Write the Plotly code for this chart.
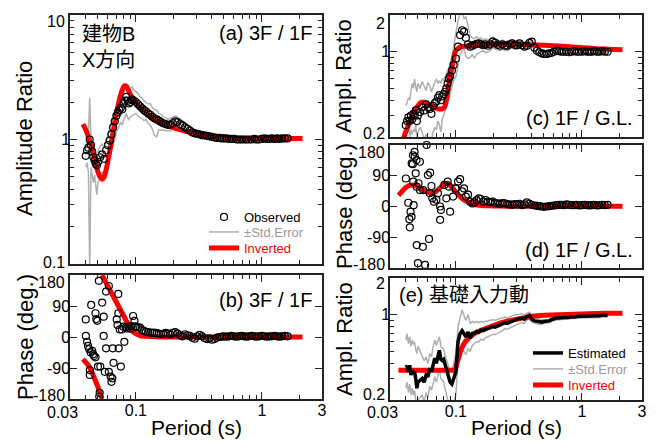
import plotly.graph_objects as go

# ---------------- data ----------------
P = [0.040, 0.041, 0.042, 0.043, 0.044, 0.045, 0.046, 0.047, 0.048, 0.049,
     0.050, 0.052, 0.054, 0.056, 0.058, 0.060, 0.062, 0.064, 0.066, 0.068,
     0.070, 0.072, 0.074, 0.076, 0.078, 0.080, 0.082, 0.084, 0.086, 0.088,
     0.090, 0.093, 0.096, 0.100, 0.104, 0.108, 0.112, 0.116, 0.120, 0.125,
     0.130, 0.135, 0.140, 0.146, 0.152, 0.158, 0.165, 0.172, 0.180, 0.188,
     0.196, 0.205, 0.214, 0.224, 0.234, 0.245, 0.256, 0.268, 0.280, 0.293,
     0.306, 0.320, 0.335, 0.350, 0.366, 0.383, 0.400, 0.420, 0.440, 0.460,
     0.480, 0.500, 0.525, 0.550, 0.575, 0.600, 0.630, 0.660, 0.690, 0.720,
     0.755, 0.790, 0.830, 0.870, 0.910, 0.950, 1.000, 1.050, 1.100, 1.150,
     1.200, 1.260, 1.320, 1.380, 1.450, 1.520, 1.600]

# (a) 3F/1F amplitude
a_obs = [0.74, 0.82, 0.86, 1.00, 0.90, 0.80, 0.72, 0.68, 0.64, 0.62,
         0.66, 0.72, 0.76, 0.70, 0.82, 0.90, 0.98, 1.10, 1.25, 1.40,
         1.55, 1.65, 1.72, 1.80, 1.75, 1.95, 2.05, 2.20, 2.05, 1.95,
         2.00, 2.10, 2.05, 2.00, 1.92, 1.85, 1.78, 1.72, 1.68, 1.62,
         1.58, 1.52, 1.48, 1.45, 1.42, 1.38, 1.35, 1.33, 1.31, 1.32,
         1.35, 1.40, 1.38, 1.33, 1.30, 1.25, 1.22, 1.18, 1.14, 1.12,
         1.11, 1.10, 1.08, 1.08, 1.07, 1.06, 1.05, 1.04, 1.03, 1.03,
         1.02, 1.02, 1.02, 1.01, 1.01, 1.01, 1.00, 1.00, 1.00, 1.00,
         1.00, 1.00, 1.00, 1.01, 1.00, 1.00, 1.01, 1.02, 1.01, 1.01,
         1.02, 1.01, 1.02, 1.01, 1.02, 1.02, 1.02]
a_up = [0.85, 0.95, 1.05, 2.15, 1.00, 0.92, 0.85, 0.82, 0.75, 0.78,
        0.80, 0.88, 0.92, 0.85, 1.00, 1.10, 1.25, 1.38, 1.55, 1.70,
        1.85, 2.05, 2.15, 2.30, 2.20, 2.45, 2.55, 2.70, 2.50, 2.60,
        2.55, 2.65, 2.50, 2.40, 2.35, 2.20, 2.15, 2.05, 2.00, 1.92,
        1.95, 1.80, 1.75, 1.72, 1.62, 1.60, 1.52, 1.50, 1.45, 1.48,
        1.50, 1.55, 1.52, 1.45, 1.42, 1.35, 1.33, 1.28, 1.22, 1.20,
        1.17, 1.16, 1.13, 1.13, 1.11, 1.10, 1.08, 1.07, 1.06, 1.05,
        1.04, 1.04, 1.04, 1.03, 1.03, 1.03, 1.02, 1.02, 1.02, 1.02,
        1.02, 1.02, 1.02, 1.03, 1.02, 1.02, 1.03, 1.04, 1.03, 1.03,
        1.04, 1.03, 1.04, 1.03, 1.04, 1.04, 1.04]
a_lo = [0.60, 0.65, 0.55, 0.09, 0.60, 0.50, 0.45, 0.52, 0.40, 0.36,
        0.45, 0.50, 0.55, 0.48, 0.60, 0.65, 0.72, 0.80, 0.90, 1.00,
        1.15, 1.20, 1.30, 1.38, 1.30, 1.45, 1.50, 1.62, 1.50, 1.45,
        1.52, 1.55, 1.60, 1.62, 1.55, 1.50, 1.48, 1.42, 1.45, 1.35,
        1.30, 1.22, 1.08, 1.05, 1.20, 1.18, 1.20, 1.17, 1.18, 1.17,
        1.22, 1.25, 1.24, 1.21, 1.18, 1.15, 1.12, 1.09, 1.07, 1.05,
        1.05, 1.04, 1.03, 1.03, 1.03, 1.02, 1.02, 1.01, 1.00, 1.01,
        1.00, 1.00, 1.00, 0.99, 0.99, 0.99, 0.98, 0.98, 0.98, 0.98,
        0.98, 0.98, 0.98, 0.99, 0.98, 0.98, 0.99, 1.00, 0.99, 0.99,
        1.00, 0.99, 1.00, 0.99, 1.00, 1.00, 1.00]
INV_T = [0.038, 0.040, 0.042, 0.044, 0.046, 0.048, 0.050, 0.052, 0.054, 0.056,
         0.058, 0.060, 0.063, 0.066, 0.069, 0.072, 0.075, 0.078, 0.081, 0.084,
         0.087, 0.090, 0.095, 0.100, 0.110, 0.120, 0.130, 0.140, 0.160, 0.180,
         0.200, 0.230, 0.260, 0.300, 0.350, 0.400, 0.500, 0.600, 0.800, 1.000,
         1.300, 1.600, 2.100]
a_inv = [1.33, 1.20, 1.05, 0.92, 0.77, 0.64, 0.55, 0.50, 0.48, 0.50,
         0.57, 0.67, 0.88, 1.15, 1.50, 1.85, 2.20, 2.50, 2.70, 2.68,
         2.50, 2.32, 2.10, 1.95, 1.75, 1.62, 1.52, 1.45, 1.35, 1.29,
         1.24, 1.19, 1.15, 1.11, 1.08, 1.06, 1.04, 1.03, 1.02, 1.02,
         1.02, 1.02, 1.02]

# (b) 3F/1F phase
b_short_T = [0.0400, 0.0401, 0.0410, 0.0417, 0.0425, 0.0431, 0.0431, 0.0438, 0.0442, 0.0450,
             0.0457, 0.0465, 0.0478, 0.0478, 0.0485, 0.0494, 0.0500, 0.0508, 0.0512, 0.0516,
             0.0522, 0.0540, 0.0555, 0.0555, 0.0567, 0.0580, 0.0580, 0.0610, 0.0610, 0.0630,
             0.0640, 0.0650, 0.0655, 0.0665, 0.0705, 0.0715, 0.0725, 0.0725, 0.0730, 0.0745,
             0.0760, 0.0775, 0.0795, 0.0810, 0.0830, 0.0850, 0.0880, 0.0905, 0.0925, 0.0950,
             0.0975, 0.0990]
b_short = [51, 3, -14, -26, -35, -96, -110, -45, 93, -40,
           -50, -55, 69, -59, 52, 47, -86, 163, -173, -162,
           -86, 100, 59, 3, -101, 132, -33, 148, -101, -115,
           -130, -120, -33, -75, 51, 35, 125, 69, -33, 22,
           -86, 22, 30, -14, 28, 25, 30, 24, 32, 61,
           47, 30]
b_long = [30, 28, 27, 20, 18, 15, 14, 13, 12, 13,
          11, 10, 8, 9, 12, 10, 7, 12, 14, 10,
          5, 2, 8, 5, 3, -2, -5, 2, 6, 2,
          -3, -6, -4, -8, -6, -2, 0, 1, 2, 1,
          2, 3, 2, 1, 2, 3, 2, 1, 2, 3,
          2, 1, 2, 3, 2, 1, 2, 2, 3, 2,
          1, 2, 3, 2]
b_inv_T = [0.038, 0.040, 0.042, 0.044, 0.046, 0.048, 0.050, 0.052, 0.0538, 0.0538,
           0.0538, 0.056, 0.058, 0.060, 0.063, 0.066, 0.069, 0.072, 0.075, 0.078,
           0.081, 0.084, 0.087, 0.090, 0.095, 0.100, 0.110, 0.120, 0.130, 0.140,
           0.160, 0.200, 0.300, 0.500, 1.000, 2.100]
b_inv = [-64, -72, -82, -95, -110, -126, -145, -163, -180, None,
         180, 168, 158, 147, 130, 114, 100, 87, 74, 62,
         52, 43, 34, 26, 15, 9, 3, 1.5, 1, 0.5,
         0, 0, 0, 0, 0, 0]

# (c) 1F/G.L. amplitude
c_obs = [0.25, 0.27, 0.29, 0.27, 0.30, 0.28, 0.31, 0.30, 0.33, 0.27,
         0.30, 0.32, 0.35, 0.33, 0.37, 0.35, 0.34, 0.31, 0.36, 0.38,
         0.39, 0.42, 0.44, 0.40, 0.43, 0.45, 0.47, 0.50, 0.55, 0.60,
         0.63, 0.70, 0.78, 0.88, 1.10, 1.37, 1.50, 1.46, 1.30, 1.15,
         1.10, 1.12, 1.14, 1.16, 1.17, 1.15, 1.13, 1.15, 1.12, 1.15,
         1.21, 1.18, 1.14, 1.12, 1.15, 1.12, 1.12, 1.15, 1.17, 1.14,
         1.13, 1.17, 1.13, 1.10, 1.12, 1.18, 1.21, 1.08, 1.02, 0.99,
         0.97, 0.96, 0.96, 0.97, 0.98, 1.00, 1.02, 1.01, 1.00, 1.00,
         1.00, 0.99, 1.00, 1.01, 1.00, 1.00, 1.00, 1.01, 1.00, 1.00,
         1.00, 1.01, 1.00, 1.00, 1.01, 1.00, 1.00]
c_up = [0.36, 0.38, 0.42, 0.40, 0.48, 0.55, 0.50, 0.60, 0.52, 0.47,
        0.55, 0.50, 0.57, 0.52, 0.48, 0.56, 0.53, 0.47, 0.52, 0.56,
        0.60, 0.55, 0.58, 0.55, 0.60, 0.58, 0.62, 0.65, 0.70, 0.74,
        0.80, 0.90, 1.10, 1.40, 1.80, 2.05, 2.10, 1.85, 1.95, 1.60,
        1.35, 1.30, 1.28, 1.32, 1.28, 1.30, 1.24, 1.28, 1.25, 1.27,
        1.32, 1.28, 1.24, 1.22, 1.25, 1.20, 1.22, 1.23, 1.25, 1.22,
        1.20, 1.22, 1.18, 1.15, 1.17, 1.22, 1.25, 1.12, 1.06, 1.03,
        1.01, 1.00, 1.00, 1.01, 1.02, 1.03, 1.05, 1.04, 1.03, 1.03,
        1.03, 1.02, 1.03, 1.04, 1.03, 1.03, 1.03, 1.04, 1.03, 1.03,
        1.03, 1.04, 1.03, 1.03, 1.04, 1.03, 1.03]
c_lo = [0.21, 0.22, 0.24, 0.20, 0.23, 0.21, 0.23, 0.22, 0.25, 0.20,
        0.22, 0.24, 0.22, 0.19, 0.21, 0.18, 0.20, 0.19, 0.22, 0.24,
        0.23, 0.27, 0.25, 0.22, 0.28, 0.30, 0.32, 0.35, 0.38, 0.42,
        0.46, 0.52, 0.58, 0.62, 0.80, 0.95, 1.02, 1.05, 0.92, 0.88,
        0.90, 0.95, 0.88, 0.95, 0.98, 1.00, 1.02, 0.98, 1.00, 1.02,
        1.08, 1.05, 1.03, 1.02, 1.05, 1.03, 1.02, 1.06, 1.08, 1.05,
        1.05, 1.10, 1.07, 1.04, 1.06, 1.12, 1.15, 1.03, 0.98, 0.96,
        0.94, 0.93, 0.93, 0.94, 0.95, 0.97, 0.99, 0.98, 0.97, 0.97,
        0.97, 0.96, 0.97, 0.98, 0.97, 0.97, 0.97, 0.98, 0.97, 0.97,
        0.97, 0.98, 0.97, 0.97, 0.98, 0.97, 0.97]
c_inv = [0.19, 0.22, 0.25, 0.28, 0.31, 0.34, 0.36, 0.38, 0.385, 0.385,
         0.38, 0.375, 0.365, 0.355, 0.345, 0.34, 0.34, 0.34, 0.35, 0.40,
         0.50, 0.62, 0.82, 1.02, 1.10, 1.11, 1.12, 1.13, 1.14, 1.15,
         1.15, 1.15, 1.15, 1.15, 1.14, 1.14, 1.13, 1.12, 1.10, 1.08,
         1.06, 1.05, 1.04]

# (d) 1F/G.L. phase
d_short_T = [0.0401, 0.0419, 0.0427, 0.0431, 0.0437, 0.0445, 0.0446, 0.0455, 0.0457, 0.0459,
             0.0462, 0.0470, 0.0472, 0.0480, 0.0487, 0.0488, 0.0489, 0.0500, 0.0505, 0.0518,
             0.0518, 0.0547, 0.0550, 0.0570, 0.0586, 0.0600, 0.0612, 0.0625, 0.0620, 0.0640,
             0.0650, 0.0670, 0.0700, 0.0720, 0.0750, 0.0760, 0.0750, 0.0810, 0.0840, 0.0860,
             0.0880, 0.0900, 0.0950, 0.0990]
d_short = [82, 11, -37, -61, -15, -30, 126, 124, 150, 73,
           4, 160, 146, 97, 136, 58, -113, -166, 68, 131,
           48, -118, 48, -171, 180, 92, -95, 99, 39, 60,
           24, 14, 20, 39, 0, -10, -39, 63, 24, 73,
           58, -15, 29, 53]
d_long = [53, 73, 80, 44, 53, 29, 35, 14, 9, 12,
          18, 24, 22, 14, 19, 14, 13, 14, 10, 9,
          8, 10, 9, 7, 6, 5, 7, 6, 8, 4,
          6, 12, 8, 5, 3, 2, 1, 0, -1, 0,
          1, 2, 3, 4, 5, 5, 4, 6, 5, 4,
          4, 5, 3, 4, 5, 4, 3, 4, 5, 3,
          4, 5, 4, 5]
d_inv_T = [0.035, 0.037, 0.039, 0.041, 0.043, 0.046, 0.049, 0.052, 0.055, 0.058,
           0.062, 0.066, 0.070, 0.074, 0.078, 0.082, 0.086, 0.090, 0.095, 0.100,
           0.110, 0.120, 0.130, 0.140, 0.160, 0.180, 0.200, 0.250, 0.300, 0.500,
           1.000, 2.100]
d_inv = [33, 42, 52, 58, 62, 63, 59, 53, 48, 44,
         40, 40, 45, 53, 61, 67, 68, 62, 52, 42,
         26, 16, 10, 6, 3, 2, 1.5, 1, 0.5, 0.5,
         0.5, 0.5]

# (e) input motion
e_est = [0.37, 0.38, 0.34, 0.385, 0.32, 0.35, 0.33, 0.34, 0.30, 0.25,
         0.28, 0.29, 0.30, 0.28, 0.32, 0.31, 0.365, 0.34, 0.385, 0.44,
         0.40, 0.45, 0.51, 0.43, 0.42, 0.43, 0.39, 0.35, 0.32, 0.29,
         0.28, 0.27, 0.30, 0.34, 0.60, 0.70, 0.74, 0.70, 0.66, 0.72,
         0.64, 0.70, 0.70, 0.73, 0.72, 0.75, 0.74, 0.76, 0.77, 0.78,
         0.80, 0.79, 0.81, 0.82, 0.84, 0.86, 0.85, 0.87, 0.89, 0.91,
         0.92, 0.93, 0.94, 0.92, 0.97, 0.99, 0.92, 0.89, 0.88, 0.87,
         0.87, 0.88, 0.88, 0.89, 0.91, 0.93, 0.94, 0.94, 0.95, 0.95,
         0.95, 0.96, 0.96, 0.96, 0.97, 0.97, 0.97, 0.97, 0.97, 0.98,
         0.98, 0.98, 0.98, 0.98, 0.99, 0.99, 0.99]
e_up = [0.62, 0.70, 0.58, 0.66, 0.55, 0.62, 0.57, 0.60, 0.52, 0.48,
        0.55, 0.50, 0.47, 0.42, 0.45, 0.40, 0.48, 0.45, 0.55, 0.62,
        0.56, 0.60, 0.66, 0.55, 0.53, 0.52, 0.47, 0.43, 0.40, 0.37,
        0.36, 0.35, 0.40, 0.48, 0.80, 0.95, 1.10, 0.98, 0.90, 1.00,
        0.85, 0.88, 0.86, 0.88, 0.86, 0.88, 0.87, 0.88, 0.89, 0.90,
        0.91, 0.90, 0.92, 0.93, 0.94, 0.96, 0.94, 0.96, 0.98, 1.00,
        1.00, 1.01, 1.02, 0.99, 1.03, 1.05, 0.97, 0.93, 0.92, 0.91,
        0.91, 0.91, 0.91, 0.92, 0.94, 0.96, 0.97, 0.97, 0.98, 0.98,
        0.98, 0.99, 0.99, 0.99, 1.00, 1.00, 1.00, 1.00, 1.00, 1.01,
        1.01, 1.01, 1.01, 1.01, 1.02, 1.02, 1.02]
e_lo = [0.25, 0.28, 0.23, 0.27, 0.22, 0.25, 0.22, 0.24, 0.20, 0.18,
        0.20, 0.21, 0.22, 0.19, 0.23, 0.21, 0.26, 0.24, 0.27, 0.31,
        0.28, 0.32, 0.36, 0.30, 0.29, 0.28, 0.25, 0.22, 0.20, 0.19,
        0.18, 0.18, 0.19, 0.22, 0.42, 0.50, 0.52, 0.50, 0.47, 0.53,
        0.50, 0.56, 0.58, 0.60, 0.60, 0.63, 0.62, 0.65, 0.66, 0.67,
        0.69, 0.69, 0.71, 0.72, 0.74, 0.77, 0.76, 0.78, 0.80, 0.82,
        0.83, 0.85, 0.86, 0.85, 0.90, 0.93, 0.87, 0.85, 0.84, 0.83,
        0.83, 0.85, 0.85, 0.86, 0.88, 0.90, 0.91, 0.91, 0.92, 0.92,
        0.92, 0.93, 0.93, 0.93, 0.94, 0.94, 0.94, 0.94, 0.94, 0.95,
        0.95, 0.95, 0.95, 0.95, 0.96, 0.96, 0.96]
e_inv_T = [0.035, 0.050, 0.070, 0.090, 0.099, 0.102, 0.105, 0.110, 0.115, 0.120,
           0.130, 0.140, 0.160, 0.180, 0.200, 0.230, 0.260, 0.300, 0.350, 0.400,
           0.500, 0.600, 0.800, 1.000, 1.500, 2.100]
e_inv = [0.35, 0.35, 0.35, 0.35, 0.35, 0.40, 0.45, 0.52, 0.57, 0.61,
         0.66, 0.70, 0.75, 0.79, 0.82, 0.86, 0.89, 0.92, 0.95, 0.97,
         0.99, 1.00, 1.01, 1.02, 1.03, 1.03]

X_TICKS = [0.03, 0.1, 1, 3]
X_TICKTEXT = ["", "0.1", "1", "3"]               # "0.03" drawn as annotation
X_MINOR = [0.04, 0.05, 0.06, 0.07, 0.08, 0.09, 0.2, 0.3, 0.4, 0.5, 0.6, 0.7, 0.8, 0.9, 2]
PH_TICKS = [-180, -90, 0, 90, 180]
PH_TICKTEXT = ["", "-90", "0", "90", ""]          # edge labels drawn as annotations
AMP_A_TICKS = [0.1, 1, 10]
AMP_A_TICKTEXT = ["", "1", ""]
AMP_C_TICKS = [0.2, 1, 2]
AMP_C_TICKTEXT = ["", "1", ""]

# ---------------- figure ----------------
W, H = 656, 442
FONT = "Arial, 'Liberation Sans', 'Noto Sans CJK JP', sans-serif"
GREY = "#b0b0b0"
RED = "#ff0000"
AXC = "#222222"


def px(x):
    return x / W


def py(y):
    return 1 - y / H


fig = go.Figure()


def grey(xs, ys, xa, ya, leg=None):
    fig.add_trace(go.Scatter(x=xs, y=ys, xaxis=xa, yaxis=ya, mode="lines",
                             line=dict(color=GREY, width=1.5),
                             name="\u00b1Std.Error", showlegend=leg is not None,
                             legend=leg or "legend"))


def red(xs, ys, xa, ya, leg=None, shape="spline"):
    fig.add_trace(go.Scatter(x=xs, y=ys, xaxis=xa, yaxis=ya, mode="lines",
                             line=dict(color=RED, width=5, shape=shape),
                             name="Inverted", showlegend=leg is not None,
                             legend=leg or "legend"))


def circles(xs, ys, xa, ya, leg=None):
    fig.add_trace(go.Scatter(x=xs, y=ys, xaxis=xa, yaxis=ya, mode="markers",
                             marker=dict(symbol="circle-open", size=7,
                                         color="black", line=dict(width=1.2)),
                             cliponaxis=False,
                             name="Observed", showlegend=leg is not None,
                             legend=leg or "legend"))


# (a)
grey(P, a_up, "x", "y", leg="legend2")
grey(P, a_lo, "x", "y")
red(INV_T, a_inv, "x", "y", leg="legend3")
circles(P, a_obs, "x", "y", leg="legend")
# (b)
red(b_inv_T, b_inv, "x2", "y2", shape="linear")
circles(b_short_T + P[33:], b_short + b_long, "x2", "y2")
# (c)
grey(P, c_up, "x3", "y3")
grey(P, c_lo, "x3", "y3")
red(INV_T, c_inv, "x3", "y3")
circles(P, c_obs, "x3", "y3")
# (d)
red(d_inv_T, d_inv, "x4", "y4")
circles(d_short_T + P[33:], d_short + d_long, "x4", "y4")
# (e)
grey(P, e_up, "x5", "y5", leg="legend5")
grey(P, e_lo, "x5", "y5")
red(e_inv_T, e_inv, "x5", "y5", leg="legend6", shape="linear")
fig.add_trace(go.Scatter(x=P, y=e_est, xaxis="x5", yaxis="y5", mode="lines",
                         line=dict(color="black", width=3.5),
                         name="Estimated", showlegend=True, legend="legend4"))

doms = {
    1: ([70, 322], [15, 264]),
    2: ([70, 322], [275, 399]),
    3: ([390, 642], [15, 137]),
    4: ([390, 642], [145, 268]),
    5: ([390, 642], [278, 400]),
}

common = dict(showline=True, linecolor=AXC, linewidth=1.5, mirror="ticks",
              ticks="inside", ticklen=7, tickwidth=1.2, tickcolor=AXC,
              showgrid=False, zeroline=False, automargin=False,
              tickfont=dict(family=FONT, size=16, color="black"))

for i, (xd, yd) in doms.items():
    xs = "xaxis" if i == 1 else f"xaxis{i}"
    ys = "yaxis" if i == 1 else f"yaxis{i}"
    yref = "y" if i == 1 else f"y{i}"
    xref = "x" if i == 1 else f"x{i}"
    fig.layout[xs] = dict(common, domain=[px(xd[0]), px(xd[1])], anchor=yref,
                          type="log", range=[-1.5228787, 0.4771213],
                          tickmode="array", tickvals=X_TICKS, ticktext=X_TICKTEXT,
                          showticklabels=i in (2, 5), ticklabelstandoff=-4,
                          minor=dict(tickmode="array", tickvals=X_MINOR, ticks="inside",
                                     ticklen=4, tickwidth=1, tickcolor=AXC))
    ydom = [py(yd[1]), py(yd[0])]
    if i in (2, 4):
        fig.layout[ys] = dict(common, domain=ydom, anchor=xref, range=[-180, 180],
                              ticklabelstandoff=-5,
                              tickmode="array", tickvals=PH_TICKS, ticktext=PH_TICKTEXT)
    elif i == 1:
        fig.layout[ys] = dict(common, domain=ydom, anchor=xref, type="log", range=[-1, 1],
                              ticklabelstandoff=-5,
                              tickmode="array", tickvals=AMP_A_TICKS, ticktext=AMP_A_TICKTEXT,
                              minor=dict(tickmode="array",
                                         tickvals=[0.2, 0.3, 0.4, 0.5, 0.6, 0.7, 0.8, 0.9,
                                                   2, 3, 4, 5, 6, 7, 8, 9],
                                         ticks="inside", ticklen=4, tickwidth=1, tickcolor=AXC))
    else:
        fig.layout[ys] = dict(common, domain=ydom, anchor=xref, type="log",
                              range=[-0.69897, 0.30103], ticklabelstandoff=-5,
                              tickmode="array", tickvals=AMP_C_TICKS, ticktext=AMP_C_TICKTEXT,
                              minor=dict(tickmode="array",
                                         tickvals=[0.3, 0.4, 0.5, 0.6, 0.7, 0.8, 0.9],
                                         ticks="inside", ticklen=4, tickwidth=1, tickcolor=AXC))


def leg(y, color):
    return dict(x=px(204), y=py(y), xanchor="left", yanchor="middle",
                bgcolor="rgba(0,0,0,0)", borderwidth=0,
                font=dict(family=FONT, size=13, color=color), itemwidth=30)


def leg2(y, color):
    d = leg(y, color)
    d["x"] = px(528)
    return d


ann = []


def text(x, y, s, size=20, xanchor="center", yanchor="middle", angle=0, align="left"):
    ann.append(dict(x=px(x), y=py(y), xref="paper", yref="paper", text=s,
                    showarrow=False, xanchor=xanchor, yanchor=yanchor,
                    textangle=angle, align=align,
                    font=dict(family=FONT, size=size, color="black")))


# edge tick labels (nudged inward like the original)
for xx, yy, s in [(67, 21, "10"), (67, 262, "0.1"),
                  (67, 282, "180"), (67, 395, "-180"),
                  (387, 23, "2"), (387, 133, "0.2"),
                  (387, 152, "180"), (387, 264, "-180"),
                  (387, 283, "2"), (387, 394, "0.2")]:
    text(xx, yy, s, size=16, xanchor="right")
text(62, 412, "0.03", size=16)
text(382, 412, "0.03", size=16)

text(80, 21, "建物B<br>X方向", size=20, xanchor="left", yanchor="top")
text(314, 33, "(a) 3F / 1F", xanchor="right")
text(314, 300, "(b) 3F / 1F", xanchor="right")
text(635, 118, "(c) 1F / G.L.", xanchor="right")
text(635, 250, "(d) 1F / G.L.", xanchor="right")
text(397, 295, "(e) 基礎入力動", xanchor="left")
text(24, 139, "Amplitude Ratio", size=22, angle=-90)
text(25, 337, "Phase (deg.)", size=22, angle=-90)
text(343, 76, "Ampl. Ratio", size=22, angle=-90)
text(344, 206, "Phase (deg.)", size=22, angle=-90)
text(344, 339, "Ampl. Ratio", size=22, angle=-90)
text(196, 427, "Period (s)", size=21)
text(516, 427, "Period (s)", size=21)

fig.update_layout(
    template="none",
    width=W, height=H, margin=dict(l=0, r=0, t=0, b=0, pad=0, autoexpand=False),
    paper_bgcolor="white", plot_bgcolor="white",
    font=dict(family=FONT, color="black"),
    annotations=ann,
    legend=leg(217, "black"),
    legend2=leg(232, "#9a9a9a"),
    legend3=leg(248, RED),
    legend4=leg2(353, "black"),
    legend5=leg2(369, "#9a9a9a"),
    legend6=leg2(385, RED),
)

fig.write_html("out.html", config={"displayModeBar": False},
               post_script="document.body.style.margin='0px';")
